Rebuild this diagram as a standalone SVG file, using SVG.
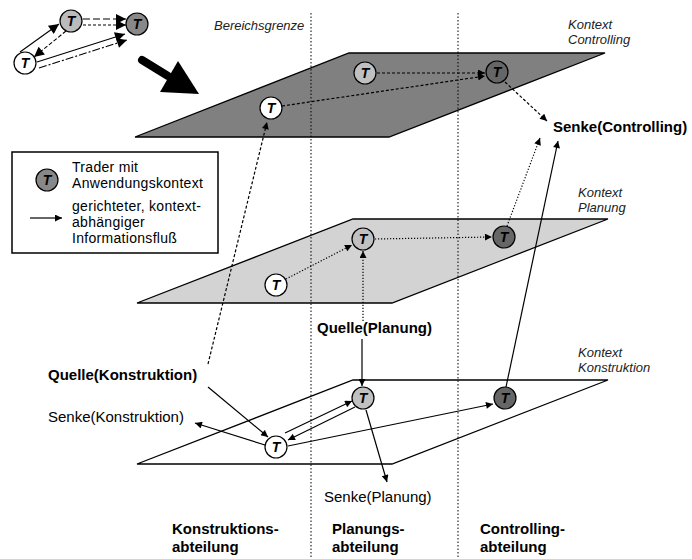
<svg xmlns="http://www.w3.org/2000/svg" width="692" height="559" viewBox="0 0 692 559">
<style>
text{font-family:"Liberation Sans",Arial,sans-serif;fill:#000}
.lbl{font-size:15px}
.lg{font-size:14px;letter-spacing:0.3px}
.b{font-weight:bold}
.it{font-size:13px;font-style:italic;fill:#222}
.t{font-size:14px;font-weight:bold;font-style:italic;text-anchor:middle}
.nw{fill:#fff;stroke:#000;stroke-width:1.2}
.nl{fill:#c0c0c0;stroke:#000;stroke-width:1.2}
.nd{fill:#666;stroke:#000;stroke-width:1.2}
.plane{stroke:#000;stroke-width:1.3}
.vline{stroke:#000;stroke-width:1;stroke-dasharray:1.5,2;fill:none}
.c{fill:none;stroke:#000;stroke-width:1.2;marker-end:url(#ah)}
.dash{stroke-dasharray:3,2}
.dot{stroke-dasharray:1.2,1.8}
.th{fill:none;stroke:#000;stroke-width:1.1;marker-end:url(#ahb)}
</style>
<defs>
<marker id="ah" viewBox="0 0 10 10" refX="10" refY="5" markerWidth="8" markerHeight="7" markerUnits="userSpaceOnUse" orient="auto"><path d="M0,0 L10,5 L0,10 z" fill="#000"/></marker>
<marker id="ahb" viewBox="0 0 10 10" refX="10" refY="5" markerWidth="13" markerHeight="10" markerUnits="userSpaceOnUse" orient="auto"><path d="M0,0 L10,5 L0,10 z" fill="#000"/></marker>
</defs>

<g id="planes">
<polygon class="plane" fill="#808080" points="135,137 349,53 605,53 389,137"/>
<polygon class="plane" fill="#d3d3d3" points="137,303 353,219 608,219 392,303"/>
<polygon class="plane" fill="#fff" points="137,464 353,380 608,380 392,464"/>
</g>
<g id="boundaries">
<line class="vline" x1="311" y1="13" x2="311" y2="559"/>
<line class="vline" x1="458" y1="13" x2="458" y2="559"/>
</g>

<g id="thumbnail">
<line class="th" x1="20" y1="52" x2="59" y2="24"/>
<line class="th" x1="66" y1="31" x2="34" y2="57" stroke-dasharray="4,2"/>
<line class="th" x1="83" y1="19" x2="126" y2="19" stroke-dasharray="7,3"/>
<line class="th" x1="83" y1="25" x2="126" y2="25" stroke-dasharray="3,2"/>
<line class="th" x1="37" y1="62" x2="125" y2="34"/>
<line class="th" x1="39" y1="68" x2="127" y2="40" stroke-dasharray="8,2,2,2"/>
<circle cx="25" cy="63" r="11" class="nw"/><text class="t" x="25" y="68">T</text>
<circle cx="71" cy="21" r="11" fill="#bbb" stroke="#000" stroke-width="1.2"/><text class="t" x="71" y="26">T</text>
<circle cx="137" cy="24" r="11" fill="#888" stroke="#000" stroke-width="1.2"/><text class="t" x="137" y="29">T</text>
<line x1="142" y1="60" x2="168" y2="76" stroke="#000" stroke-width="8" stroke-linecap="round"/>
<polygon points="160,92 178,61 199,94" fill="#000"/>
</g>

<g id="legend">
<rect x="12" y="152" width="206" height="101" fill="#fff" stroke="#000" stroke-width="1.5"/>
<circle cx="47" cy="180" r="11" fill="#888" stroke="#000" stroke-width="1.2"/><text class="t" x="47" y="185">T</text>
<line class="c" x1="30" y1="218" x2="62" y2="218"/>
<text class="lg" x="72" y="172">Trader mit</text>
<text class="lg" x="72" y="188">Anwendungskontext</text>
<text class="lg" x="72" y="211">gerichteter, kontext-</text>
<text class="lg" x="72" y="227">abhängiger</text>
<text class="lg" x="72" y="243">Informationsfluß</text>
</g>

<g id="connectors">
<line class="c dash" x1="377" y1="73" x2="485" y2="73"/>
<line class="c dash" x1="282" y1="106" x2="485" y2="76"/>
<line class="c dash" x1="505" y1="82" x2="547" y2="121"/>
<line class="c dash" x1="208" y1="364" x2="267" y2="122"/>
<line class="c dot" x1="286" y1="279" x2="352" y2="245"/>
<line class="c dot" x1="375" y1="239" x2="492" y2="237"/>
<line class="c dot" x1="507" y1="226" x2="540" y2="138"/>
<line class="c dot" x1="363" y1="321" x2="363" y2="251"/>
<line class="c" x1="362" y1="339" x2="362" y2="386"/>
<line class="c" x1="285" y1="433" x2="352" y2="401"/>
<line class="c" x1="355" y1="407" x2="288" y2="440"/>
<line class="c" x1="288" y1="446" x2="493" y2="404"/>
<line class="c" x1="366" y1="410" x2="387" y2="482"/>
<line class="c" x1="506" y1="387" x2="558" y2="141"/>
<line class="c" x1="208" y1="387" x2="268" y2="437"/>
<line class="c" x1="265" y1="445" x2="195" y2="423"/>
</g>

<g id="n-top-white"><circle cx="271" cy="108" r="11" class="nw"/><text class="t" x="271" y="113">T</text></g>
<g id="n-top-light"><circle cx="365" cy="73" r="11" class="nl"/><text class="t" x="365" y="78">T</text></g>
<g id="n-top-dark"><circle cx="497" cy="72" r="11" class="nd"/><text class="t" x="497" y="77">T</text></g>
<g id="n-mid-white"><circle cx="276" cy="285" r="11" class="nw"/><text class="t" x="276" y="290">T</text></g>
<g id="n-mid-light"><circle cx="363" cy="239" r="11" class="nl"/><text class="t" x="363" y="244">T</text></g>
<g id="n-mid-dark"><circle cx="504" cy="237" r="11" class="nd"/><text class="t" x="504" y="242">T</text></g>
<g id="n-bot-white"><circle cx="276" cy="447" r="11" class="nw"/><text class="t" x="276" y="452">T</text></g>
<g id="n-bot-light"><circle cx="363" cy="398" r="11" class="nl"/><text class="t" x="363" y="403">T</text></g>
<g id="n-bot-dark"><circle cx="505" cy="398" r="11" class="nd"/><text class="t" x="505" y="403">T</text></g>

<g id="labels">
<text class="it" x="214" y="30">Bereichsgrenze</text>
<text class="it" x="568" y="29">Kontext</text>
<text class="it" x="568" y="44">Controlling</text>
<text class="it" x="578" y="197">Kontext</text>
<text class="it" x="578" y="212">Planung</text>
<text class="it" x="578" y="357">Kontext</text>
<text class="it" x="578" y="372">Konstruktion</text>
<text class="lbl b" x="553" y="132">Senke(Controlling)</text>
<text class="lbl b" x="317" y="333">Quelle(Planung)</text>
<text class="lbl b" x="48" y="380">Quelle(Konstruktion)</text>
<text class="lbl" x="48" y="422">Senke(Konstruktion)</text>
<text class="lbl" x="324" y="502">Senke(Planung)</text>
<text class="lbl b" x="172" y="534">Konstruktions-</text>
<text class="lbl b" x="172" y="552">abteilung</text>
<text class="lbl b" x="332" y="534">Planungs-</text>
<text class="lbl b" x="332" y="552">abteilung</text>
<text class="lbl b" x="480" y="534">Controlling-</text>
<text class="lbl b" x="480" y="552">abteilung</text>
</g>
</svg>
